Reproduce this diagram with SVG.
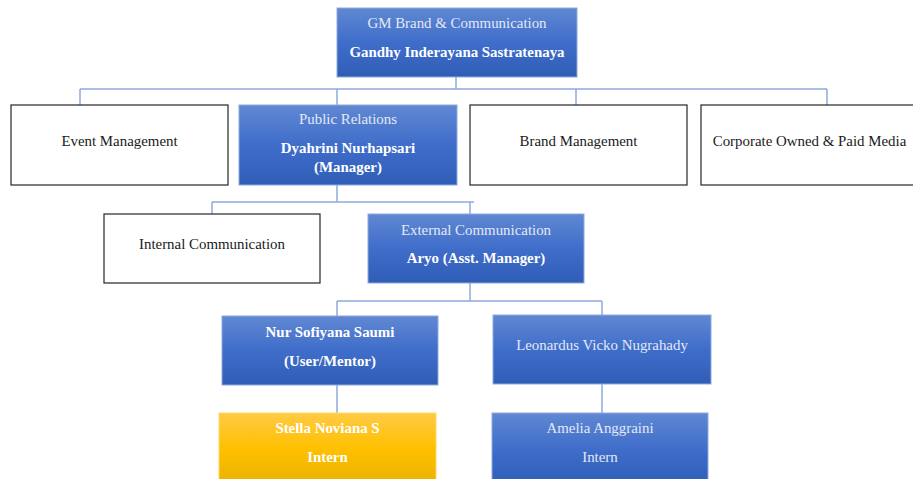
<svg xmlns="http://www.w3.org/2000/svg" width="913" height="479" viewBox="0 0 913 479">
<defs>
<linearGradient id="gb" x1="0" y1="0" x2="0" y2="1">
<stop offset="0" stop-color="#6088d2"/>
<stop offset="0.5" stop-color="#3f6dca"/>
<stop offset="1" stop-color="#2f5db6"/>
</linearGradient>
<linearGradient id="gy" x1="0" y1="0" x2="0" y2="1">
<stop offset="0" stop-color="#ffca45"/>
<stop offset="0.5" stop-color="#ffc000"/>
<stop offset="1" stop-color="#e8b200"/>
</linearGradient>
<style>
.b{fill:url(#gb);stroke:#8eaadb;stroke-width:1}
.y{fill:url(#gy);stroke:#ffd966;stroke-width:1}
.w{fill:#ffffff;stroke:#262626;stroke-width:1.2}
text{font-family:"Liberation Serif","Times New Roman",serif;font-size:14.9px;text-anchor:middle}
.lt{fill:#e2e9f6}
.bd{fill:#ffffff;font-weight:bold}
.dk{fill:#1a1a1a}
.c{fill:none;stroke:#8eaadb;stroke-width:1.5}
</style>
</defs>
<rect width="913" height="479" fill="#ffffff"/>
<g id="connectors">
<path class="c" d="M456 77V89M80 89H827M80 89V105M337 89V105M576 89V105M827 89V105"/>
<path class="c" d="M337 185V202M212 202H474M212 202V214M470 202V214"/>
<path class="c" d="M470 283V301M337 301H602M337 301V316M602 301V315"/>
<path class="c" d="M337 385V413M602 384V413"/>
</g>
<g id="gm">
<rect class="b" x="337" y="8" width="240" height="69"/>
<text class="lt" x="457" y="28">GM Brand &amp; Communication</text>
<text class="bd" x="457" y="57">Gandhy Inderayana Sastratenaya</text>
</g>
<g id="event">
<rect class="w" x="11" y="105" width="217" height="80"/>
<text class="dk" x="119.5" y="146">Event Management</text>
</g>
<g id="pr">
<rect class="b" x="239" y="105" width="218" height="80"/>
<text class="lt" x="348" y="124">Public Relations</text>
<text class="bd" x="348" y="153">Dyahrini Nurhapsari</text>
<text class="bd" x="348" y="172">(Manager)</text>
</g>
<g id="brand">
<rect class="w" x="470" y="105" width="217" height="80"/>
<text class="dk" x="578.5" y="146">Brand Management</text>
</g>
<g id="corporate">
<rect class="w" x="701" y="105" width="217" height="80"/>
<text class="dk" x="809.5" y="146">Corporate Owned &amp; Paid Media</text>
</g>
<g id="internal">
<rect class="w" x="104" y="214" width="216" height="69"/>
<text class="dk" x="212" y="249">Internal Communication</text>
</g>
<g id="external">
<rect class="b" x="368" y="214" width="216" height="69"/>
<text class="lt" x="476" y="235">External Communication</text>
<text class="bd" x="476" y="263">Aryo (Asst. Manager)</text>
</g>
<g id="nur">
<rect class="b" x="222" y="316" width="216" height="69"/>
<text class="bd" x="330" y="337">Nur Sofiyana Saumi</text>
<text class="bd" x="330" y="366">(User/Mentor)</text>
</g>
<g id="leonardus">
<rect class="b" x="493" y="315" width="218" height="69"/>
<text class="lt" x="602" y="350">Leonardus Vicko Nugrahady</text>
</g>
<g id="stella">
<rect class="y" x="219" y="413" width="217" height="72"/>
<text class="bd" x="327.5" y="433">Stella Noviana S</text>
<text class="bd" x="327.5" y="462">Intern</text>
</g>
<g id="amelia">
<rect class="b" x="492" y="413" width="216" height="72"/>
<text class="lt" x="600" y="433">Amelia Anggraini</text>
<text class="lt" x="600" y="462">Intern</text>
</g>
</svg>
